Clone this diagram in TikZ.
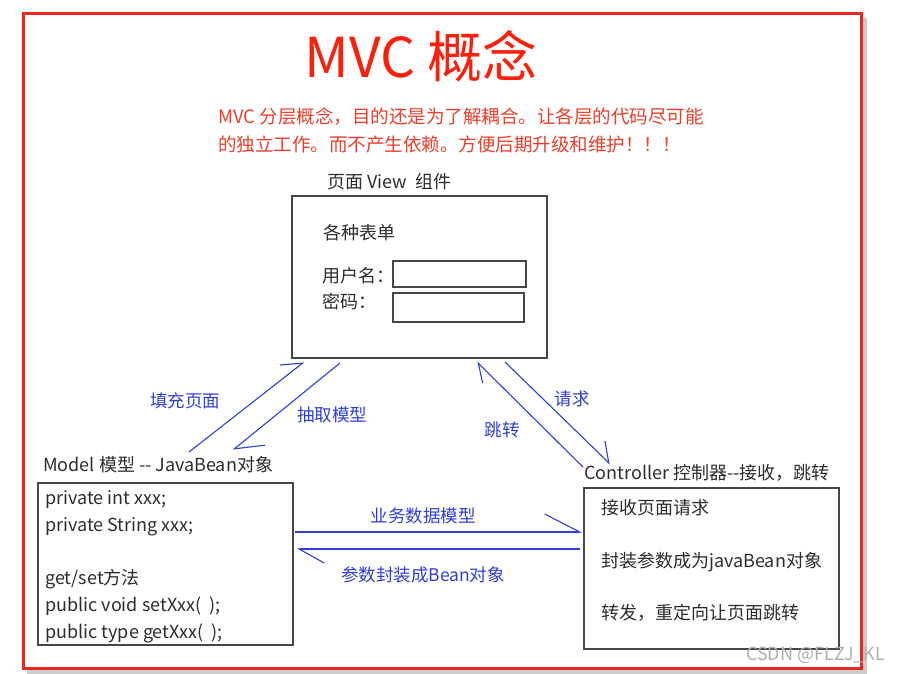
\documentclass[tikz,border=0pt]{standalone}
\usepackage{fontspec}
\setmainfont{Noto Sans CJK SC}
\usetikzlibrary{arrows.meta}
\definecolor{framered}{RGB}{232,40,28}
\definecolor{titlered}{RGB}{250,32,12}
\definecolor{subred}{RGB}{236,62,42}
\definecolor{arrowblue}{RGB}{48,62,214}
\definecolor{boxgray}{RGB}{70,70,70}
\definecolor{txt}{RGB}{45,45,45}
\definecolor{shadowgray}{RGB}{170,170,170}
\definecolor{wmgray}{RGB}{175,175,175}
\tikzset{
  box/.style={draw=boxgray, line width=1.4pt, inner sep=0pt, fill=white},
  lbl/.style={inner sep=0pt, anchor=west, text=txt, font=\fontsize{18}{20}\selectfont},
  code/.style={inner sep=0pt, anchor=west, text=txt, font=\fontsize{18}{20}\selectfont},
  bluelbl/.style={inner sep=0pt, text=arrowblue, font=\fontsize{17.5}{20}\selectfont},
  conn/.style={draw=arrowblue, line width=1.1pt},
}
\begin{document}
\begin{tikzpicture}[x=1pt,y=-1pt]
\useasboundingbox (0,0) rectangle (903,674);
\fill[white] (0,0) rectangle (903,674);
% frame with shadow
\draw[shadowgray, line width=4pt, opacity=0.6] (865,18) -- (865,672) -- (27,672);
\draw[framered, line width=3pt] (23,13.5) rectangle (861,668);
% title and subtitle
\node[inner sep=0pt, text=titlered, font=\fontsize{55}{60}\selectfont] (title) at (421,56) {MVC 概念};
\node[inner sep=0pt, anchor=west, text=subred, font=\fontsize{18.5}{20}\selectfont] (sub1) at (218,117) {MVC 分层概念，目的还是为了解耦合。让各层的代码尽可能};
\node[inner sep=0pt, anchor=west, text=subred, font=\fontsize{18.5}{20}\selectfont] (sub2) at (218,144) {的独立工作。而不产生依赖。方便后期升级和维护！！！};
% View
\node[lbl] (viewtitle) at (327,182) {页面 View\ \ 组件};
\node[box, minimum width=255pt, minimum height=162pt] (view) at (419.5,277) {};
\node[lbl] (forms) at (323,233) {各种表单};
\node[lbl] (user) at (322,276) {用户名：};
\node[lbl] (pwd) at (322,302) {密码：};
\node[box, line width=1.2pt, minimum width=133pt, minimum height=26pt] (userin) at (459.5,274) {};
\node[box, line width=1.2pt, minimum width=131pt, minimum height=29pt] (pwdin) at (458.5,307.5) {};
% Model
\node[lbl] (modeltitle) at (43,465) {Model 模型 -{}- JavaBean对象};
\node[box, minimum width=255pt, minimum height=162pt] (model) at (165.5,564) {};
\node[code] (m1) at (45,500) {private int xxx;};
\node[code] (m2) at (45,527) {private String xxx;};
\node[code] (m3) at (45,579) {get/set方法};
\node[code] (m4) at (45,606) {public void setXxx(\ \ );};
\node[code] (m5) at (45,633) {public type getXxx(\ \ );};
% Controller
\node[lbl] (ctrltitle) at (584,473) {Controller 控制器-{}-接收，跳转};
\node[box, minimum width=255pt, minimum height=161pt] (ctrl) at (711.5,568.5) {};
\node[code] (c1) at (601,508) {接收页面请求};
\node[code] (c2) at (601,562) {封装参数成为javaBean对象};
\node[code] (c3) at (601,613) {转发，重定向让页面跳转};
% connector end points
\coordinate (fillS) at (189,452);
\coordinate (fillE) at (304,362);
\coordinate (takeS) at (340,363);
\coordinate (takeE) at (233,450);
\coordinate (jumpS) at (583,467);
\coordinate (jumpE) at (477,362);
\coordinate (reqS) at (505,362);
\coordinate (reqE) at (610,464);
\coordinate (bizS) at (295,532);
\coordinate (bizE) at (582,532);
\coordinate (parS) at (580,549);
\coordinate (parE) at (297,549);
% connectors (half-barb arrows)
\draw[conn, -{Straight Barb[harpoon, length=19pt, width=25pt]}] (fillS) -- (fillE);
\draw[conn, -{Straight Barb[harpoon, length=26pt, width=33pt]}] (takeS) -- (takeE);
\draw[conn, -{Straight Barb[harpoon, length=17pt, width=22pt]}] (jumpS) -- (jumpE);
\draw[conn, -{Straight Barb[harpoon, length=18pt, width=26pt]}] (reqS) -- (reqE);
\draw[conn, -{Straight Barb[harpoon, length=35pt, width=36pt]}] (bizS) -- (bizE);
\draw[conn, -{Straight Barb[harpoon, length=25pt, width=28pt]}] (parS) -- (parE);
% connector labels
\node[bluelbl] (lfill) at (185,401) {填充页面};
\node[bluelbl] (ltake) at (332,415) {抽取模型};
\node[bluelbl] (ljump) at (502,430) {跳转};
\node[bluelbl] (lreq) at (572,399) {请求};
\node[bluelbl] (lbiz) at (423,516) {业务数据模型};
\node[bluelbl] (lpar) at (423,575) {参数封装成Bean对象};
% watermark
\node[inner sep=0pt, anchor=west, text=wmgray, font=\fontsize{18}{20}\selectfont] (wm) at (746,655) {CSDN @FLZJ\_KL};
\end{tikzpicture}
\end{document}
